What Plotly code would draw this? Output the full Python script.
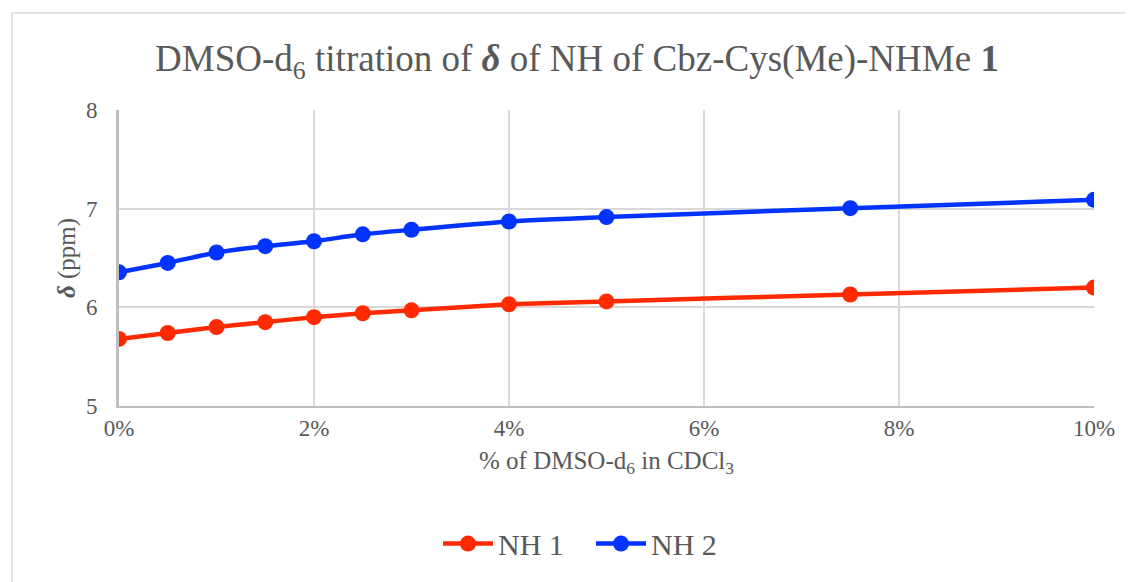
import plotly.graph_objects as go

x_pct = [0, 0.5, 1, 1.5, 2, 2.5, 3, 4, 5, 7.5, 10]
nh1 = [5.68, 5.74, 5.80, 5.85, 5.90, 5.94, 5.97, 6.03, 6.06, 6.13, 6.20]
nh2 = [6.355, 6.45, 6.556, 6.62, 6.67, 6.74, 6.786, 6.87, 6.915, 7.005, 7.09]
x_ticks = [0, 2, 4, 6, 8, 10]
x_tick_labels = ["0%", "2%", "4%", "6%", "8%", "10%"]
y_ticks = [5, 6, 7, 8]

# page body has an 8px margin, so work in figure coordinates (ref pixel - 8)
OFF = 8
W, H = 1133 - OFF, 582 - OFF
L, T = 119 - OFF, 110 - OFF
R = W - (1094 - OFF)
B = H - (409 - OFF)
pw, ph = W - L - R, H - T - B

font_fam = "Liberation Serif, Times New Roman, serif"
grey = "#595959"

fig = go.Figure()
fig.add_trace(go.Scatter(x=x_pct, y=nh1, name="NH 1", mode="lines+markers",
                         line=dict(color="#FF2A00", width=4.5, shape="spline", smoothing=0.6),
                         marker=dict(size=16, color="#FF2A00")))
fig.add_trace(go.Scatter(x=x_pct, y=nh2, name="NH 2", mode="lines+markers",
                         line=dict(color="#0033FF", width=4.5, shape="spline", smoothing=0.6),
                         marker=dict(size=16, color="#0033FF")))

def px_x(p):
    return (p - OFF - L) / pw

def px_y(p):
    return (H - B - (p - OFF)) / ph

fig.add_shape(type="rect", xref="paper", yref="paper",
              x0=px_x(12), x1=px_x(1150), y0=px_y(12), y1=px_y(600),
              line=dict(color="#d9d9d9", width=1.5), layer="below")

fig.update_layout(
    width=W, height=H,
    margin=dict(l=L, r=R, t=T, b=B),
    paper_bgcolor="white", plot_bgcolor="white",
    font=dict(family=font_fam, color=grey),
    title=dict(text="DMSO-d<sub>6</sub> titration of <b><i>δ</i></b> of NH of Cbz-Cys(Me)-NHMe <b>1</b>",
               x=(577 - OFF) / W, xref="container", xanchor="center",
               y=1 - (58 - OFF) / H, yref="container", yanchor="middle",
               font=dict(size=37, color=grey, family=font_fam)),
    xaxis=dict(range=[0, 10], tickvals=x_ticks, ticktext=x_tick_labels,
               showgrid=True, gridcolor="#d9d9d9", gridwidth=1.5,
               showline=True, linecolor="#bfbfbf", linewidth=2,
               ticks="", tickfont=dict(size=23, color=grey, family=font_fam), zeroline=False,
               title=dict(text="% of DMSO-d<sub>6</sub> in CDCl<sub>3</sub>",
                          font=dict(size=25, color=grey, family=font_fam), standoff=12)),
    yaxis=dict(range=[5, 8], tickvals=y_ticks,
               showgrid=True, gridcolor="#d9d9d9", gridwidth=1.5,
               showline=True, linecolor="#bfbfbf", linewidth=3,
               ticks="", tickfont=dict(size=23, color=grey, family=font_fam), zeroline=False,
               ticklabelstandoff=14,
               title=dict(text="<b><i>δ</i></b> (ppm)", font=dict(size=25, color=grey, family=font_fam),
                          standoff=4)),
    legend=dict(orientation="h", x=px_x(591), xanchor="center", y=px_y(548), yanchor="middle",
                font=dict(size=30, color=grey, family=font_fam), traceorder="normal",
                itemwidth=50, entrywidth=88, entrywidthmode="pixels"),
    showlegend=True,
)

fig.write_html("out.html")
